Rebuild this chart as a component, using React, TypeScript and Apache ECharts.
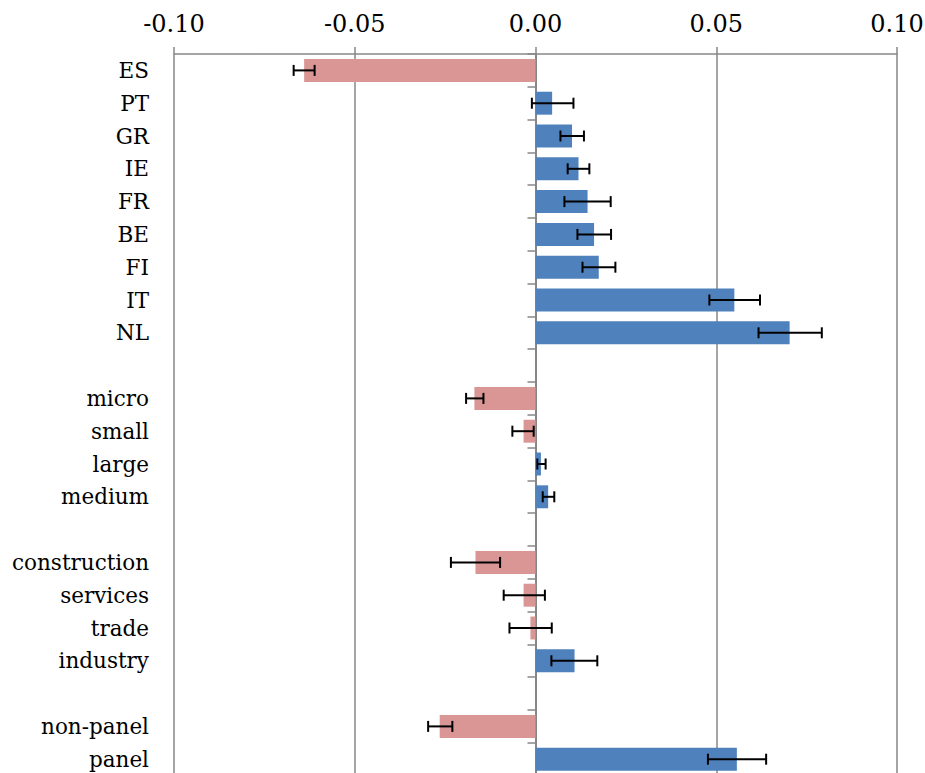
import React, { useEffect, useRef } from "react";
import * as echarts from "echarts";

const categories = [
  "ES", "PT", "GR", "IE", "FR", "BE", "FI", "IT", "NL", " ",
  "micro", "small", "large", "medium", "  ",
  "construction", "services", "trade", "industry", "   ",
  "non-panel", "panel",
];

const values: (number | null)[] = [
  -0.064, 0.0046, 0.0101, 0.0119, 0.0144, 0.0162, 0.0175, 0.055, 0.0703, null,
  -0.0169, -0.0033, 0.0015, 0.0035, null,
  -0.0166, -0.0033, -0.0014, 0.0108, null,
  -0.0265, 0.0557,
];

const errLow: (number | null)[] = [
  -0.0669, -0.001, 0.0069, 0.0089, 0.008, 0.0116, 0.013, 0.0481, 0.0617, null,
  -0.0192, -0.0064, 0.0005, 0.002, null,
  -0.0234, -0.0088, -0.0072, 0.0044, null,
  -0.0297, 0.0477,
];

const errHigh: (number | null)[] = [
  -0.0611, 0.0105, 0.0134, 0.0149, 0.0208, 0.0209, 0.0221, 0.0621, 0.0792, null,
  -0.0144, -0.0005, 0.0028, 0.0052, null,
  -0.0098, 0.0026, 0.0045, 0.0171, null,
  -0.023, 0.0638,
];

const xTicks = [-0.1, -0.05, 0, 0.05, 0.1];

const POS = "#4F81BD";
const NEG = "#D99694";
const GRID = "#878787";
const FONT = "DejaVu Serif";

export default function App() {
  const ref = useRef<HTMLDivElement>(null);
  useEffect(() => {
    if (!ref.current) return;
    const chart = echarts.init(ref.current, undefined, { renderer: "svg" });
    const errData = categories
      .map((_, i) => (errLow[i] == null ? null : [errLow[i], errHigh[i], i]))
      .filter((d) => d !== null);
    chart.setOption({
      animation: false,
      textStyle: { fontFamily: FONT },
      grid: { left: 174, right: 28, top: 54, height: 721.6, outerBoundsMode: "none", containLabel: false },
      xAxis: {
        type: "value",
        position: "top",
        min: xTicks[0],
        max: xTicks[xTicks.length - 1],
        interval: 0.05,
        axisLine: { show: true, lineStyle: { color: GRID, width: 1.5 } },
        axisTick: { show: true, length: 7, lineStyle: { color: GRID, width: 1.5 } },
        splitLine: { show: true, lineStyle: { color: GRID, width: 1.5 } },
        axisLabel: {
          formatter: (v: number) => v.toFixed(2),
          fontFamily: FONT,
          fontSize: 24,
          color: "#000",
          margin: 18,
        },
      },
      yAxis: [
        {
          type: "category",
          data: categories,
          inverse: true,
          position: "left",
          axisLine: { show: false, onZero: false },
          axisTick: { show: false },
          splitLine: { show: false },
          axisLabel: {
            fontFamily: FONT,
            fontSize: 21.5,
            color: "#000",
            margin: 25,
          },
        },
        {
          type: "category",
          data: categories,
          inverse: true,
          position: "left",
          axisLine: { show: true, onZero: true, lineStyle: { color: GRID, width: 2 } },
          axisTick: { show: true, length: 8, lineStyle: { color: GRID, width: 1.5 } },
          axisLabel: { show: false },
          splitLine: { show: false },
        },
      ],
      series: [
        {
          type: "bar",
          yAxisIndex: 0,
          data: values,
          barCategoryGap: "30%",
          itemStyle: {
            color: (p: any) => (p.value < 0 ? NEG : POS),
          },
          z: 3,
        },
        {
          type: "custom",
          yAxisIndex: 0,
          data: errData,
          encode: { x: [0, 1], y: 2 },
          z: 5,
          renderItem: (params: any, api: any) => {
            const lo = api.value(0);
            const hi = api.value(1);
            const idx = api.value(2);
            const p1 = api.coord([lo, idx]);
            const p2 = api.coord([hi, idx]);
            const h = 5.5;
            const style = { stroke: "#000", lineWidth: 2 };
            return {
              type: "group",
              children: [
                { type: "line", shape: { x1: p1[0], y1: p1[1], x2: p2[0], y2: p2[1] }, style },
                { type: "line", shape: { x1: p1[0], y1: p1[1] - h, x2: p1[0], y2: p1[1] + h }, style },
                { type: "line", shape: { x1: p2[0], y1: p2[1] - h, x2: p2[0], y2: p2[1] + h }, style },
              ],
            };
          },
        },
      ],
    });
    return () => chart.dispose();
  }, []);
  return (
    <div
      ref={ref}
      style={{ position: "absolute", left: 0, top: 0, width: 925, height: 780, background: "#fff" }}
    />
  );
}
